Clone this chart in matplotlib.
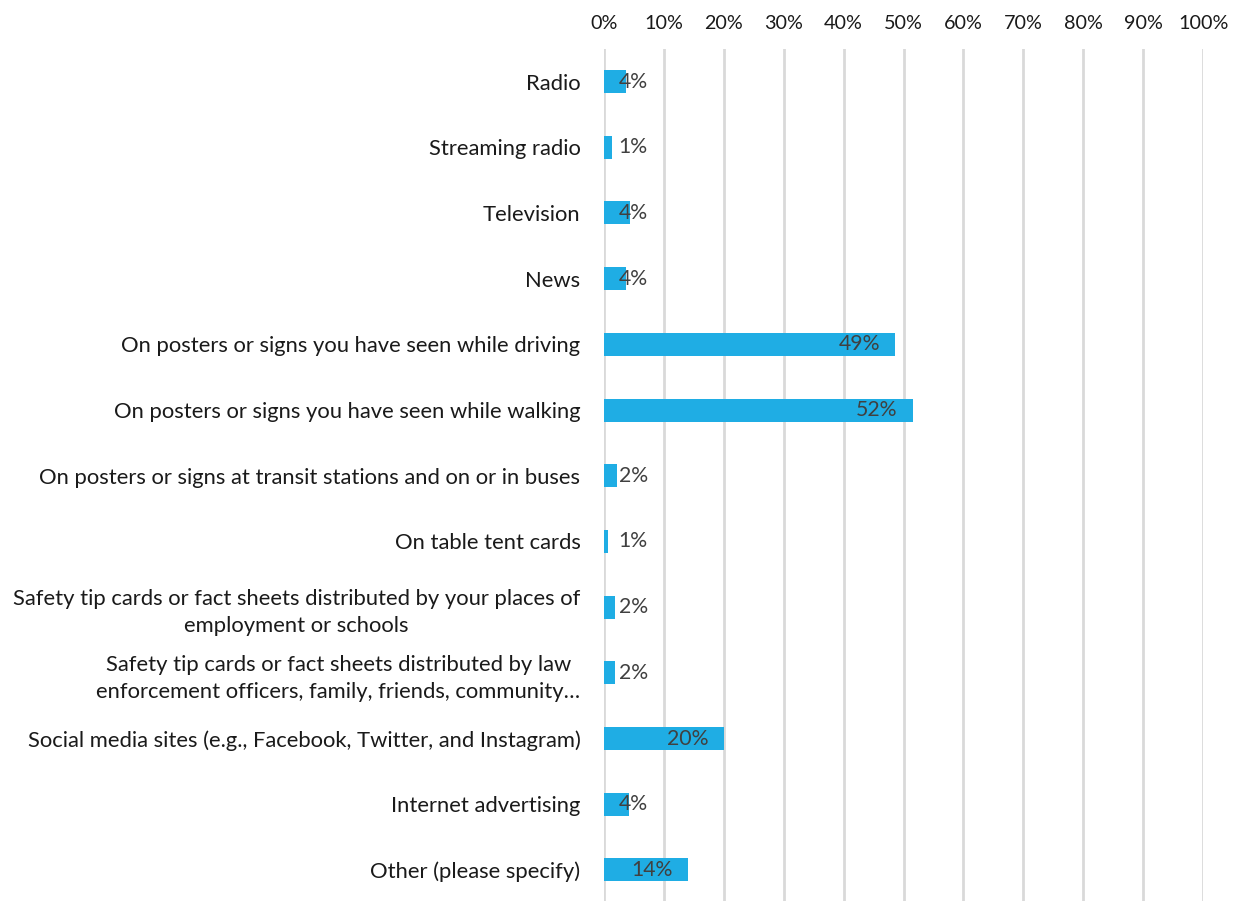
import matplotlib.pyplot as plt
from matplotlib.ticker import MultipleLocator, PercentFormatter

categories = [
    "Radio",
    "Streaming radio",
    "Television",
    "News",
    "On posters or signs you have seen while driving",
    "On posters or signs you have seen while walking",
    "On posters or signs at transit stations and on or in buses",
    "On table tent cards",
    "Safety tip cards or fact sheets distributed by your places of\nemployment or schools",
    "Safety tip cards or fact sheets distributed by law\nenforcement officers, family, friends, community\u2026",
    "Social media sites (e.g., Facebook, Twitter, and Instagram)",
    "Internet advertising",
    "Other (please specify)",
]
values = [3.6, 1.4, 4.3, 3.6, 48.6, 51.5, 2.1, 0.7, 1.8, 1.8, 20.0, 4.2, 14.0]

plt.rcParams["font.family"] = ["Lato", "DejaVu Sans"]

fig = plt.figure(figsize=(12.39, 9.01), dpi=100)
ax = fig.add_axes([0.4875, -0.002, 0.4835, 0.948])

ypos = list(range(len(categories)))
ax.barh(ypos, values, height=0.35, color="#1FADE4", zorder=3)

for y, v in zip(ypos, values):
    ax.text(max(v - 2.5, 7.3), y, f"{round(v):.0f}%", ha="right", va="center",
            fontsize=15.3, color="#404040", zorder=4)

ax.set_xlim(0, 100)
ax.set_ylim(len(categories) - 0.5, -0.5)
ax.set_yticks(ypos)
ax.set_yticklabels(categories, fontsize=15.8, color="#1a1a1a",
                   multialignment="center", linespacing=1.45)
ax.xaxis.set_major_locator(MultipleLocator(10))
ax.xaxis.set_major_formatter(PercentFormatter(decimals=0))
ax.xaxis.tick_top()
ax.tick_params(axis="x", length=0, pad=12, labelsize=14.2, labelcolor="#1a1a1a")
ax.tick_params(axis="y", length=0, pad=17)
ax.grid(axis="x", color="#D9D9D9", linewidth=2, zorder=0)
for s in ax.spines.values():
    s.set_visible(False)

fig.savefig("out.png", dpi=100)
